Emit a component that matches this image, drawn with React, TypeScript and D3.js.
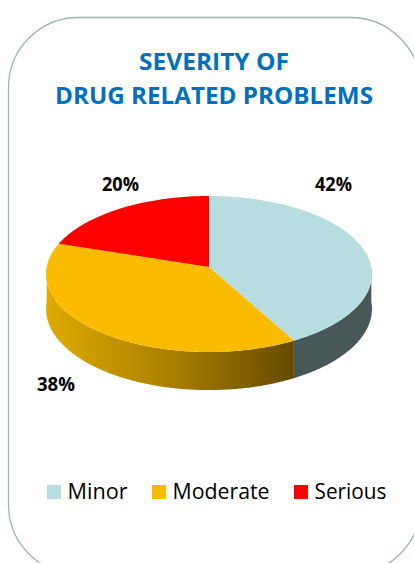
import React from "react";
import * as d3 from "d3";

const categories = ["Minor", "Moderate", "Serious"];
const values = [42, 38, 20];
const topColors = ["#B8DDE1", "#FBBC00", "#FF0000"];
const titleLines = ["SEVERITY OF", "DRUG RELATED PROBLEMS"];

const W = 414;
const H = 563;
const CX = 209;
const CY = 267;
const A = 162.3;
const B = 77.4;
const P = 0.0898;
const DEPTH = 34.6;

function proj(phi: number, dy = 0): [number, number] {
  const s = Math.sin(phi);
  const c = Math.cos(phi);
  const k = 1 / (1 - P * s);
  return [CX + A * c * k, CY + B * s * k + dy * k];
}

function sample(p0: number, p1: number, dy = 0): [number, number][] {
  const n = Math.max(2, Math.ceil(Math.abs(p1 - p0) / 0.01));
  const pts: [number, number][] = [];
  for (let i = 0; i <= n; i++) pts.push(proj(p0 + ((p1 - p0) * i) / n, dy));
  return pts;
}

const lineGen = d3.line<[number, number]>().curve(d3.curveLinearClosed);

export default function App() {
  const pie = d3.pie<number>().sort(null).startAngle(0).endAngle(2 * Math.PI);
  const arcs = pie(values);
  const color = d3.scaleOrdinal<string, string>().domain(categories).range(topColors);
  const sideFill: Record<string, string> = {
    Minor: "#485859",
    Moderate: "url(#modSide)",
    Serious: "#A00000",
  };

  const sides = arcs.map((a, i) => {
    const p0 = Math.max(a.startAngle - Math.PI / 2, 0);
    const p1 = Math.min(a.endAngle - Math.PI / 2, Math.PI);
    if (p1 <= p0) return null;
    const top = sample(p0, p1, 0);
    const bot = sample(p1, p0, DEPTH);
    return (
      <path key={"s" + i} d={lineGen([...top, ...bot]) || ""} fill={sideFill[categories[i]]} />
    );
  });

  const tops = arcs.map((a, i) => {
    const pts: [number, number][] = [[CX, CY], ...sample(a.startAngle - Math.PI / 2, a.endAngle - Math.PI / 2)];
    return <path key={"t" + i} d={lineGen(pts) || ""} fill={color(categories[i])} />;
  });

  const labelPos: [number, number, number][] = [
    [333.5, 191, 37],
    [56, 391, 38],
    [120.5, 191, 37],
  ];

  const legendX = [47, 152, 294];
  const legendTextLen = [60, 97, 72];

  return (
    <svg width={W} height={H} style={{ position: "absolute", left: 0, top: 0 }}>
      <defs>
        <linearGradient id="modSide" gradientUnits="userSpaceOnUse" x1={46} y1={0} x2={297} y2={0}>
          <stop offset="0" stopColor="#DFAB00" />
          <stop offset="0.5" stopColor="#A97F00" />
          <stop offset="1" stopColor="#624900" />
        </linearGradient>
      </defs>
      <rect x={8.5} y={17.5} width={412} height={557} rx={70} ry={70} fill="#FFFFFF" stroke="#9DB4B9" strokeWidth={1.3} />
      {titleLines.map((t, i) => (
        <text
          key={t}
          x={214}
          y={i === 0 ? 69.5 : 103.5}
          textAnchor="middle"
          fontFamily="'Open Sans', sans-serif"
          fontWeight={700}
          fontSize={23}
          fill="#0070C0"
          textLength={i === 0 ? 150 : 318}
          lengthAdjust="spacingAndGlyphs"
        >
          {t}
        </text>
      ))}
      {sides}
      {tops}
      {arcs.map((a, i) => (
        <text
          key={"l" + i}
          x={labelPos[i][0]}
          y={labelPos[i][1]}
          textAnchor="middle"
          fontFamily="'Open Sans', sans-serif"
          fontWeight={700}
          fontSize={19}
          fill="#000000"
          textLength={labelPos[i][2]}
          lengthAdjust="spacingAndGlyphs"
        >
          {`${a.data}%`}
        </text>
      ))}
      {categories.map((c, i) => (
        <g key={"g" + c}>
          <rect x={legendX[i]} y={485} width={14} height={14} fill={color(c)} />
          <text
            x={legendX[i] + 20.5}
            y={499}
            fontFamily="'Open Sans', sans-serif"
            fontSize={21.5}
            fill="#000000"
            textLength={legendTextLen[i]}
            lengthAdjust="spacingAndGlyphs"
          >
            {c}
          </text>
        </g>
      ))}
    </svg>
  );
}
